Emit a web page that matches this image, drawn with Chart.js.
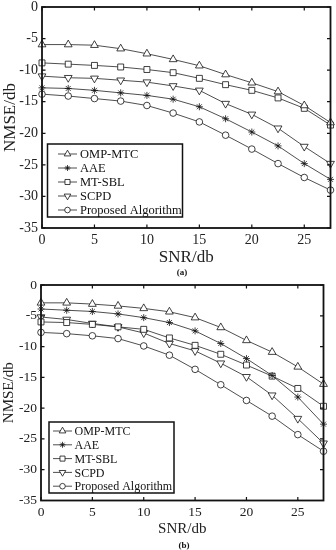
<!DOCTYPE html>
<html>
<head>
<meta charset="utf-8">
<script src="https://cdn.jsdelivr.net/npm/chart.js@4.4.0/dist/chart.umd.min.js"></script>
<style>
body{margin:0;background:#fff;width:336px;height:550px;position:relative;overflow:hidden;font-family:"Liberation Serif",serif;}
.wrap{position:absolute;left:0;width:336px;}
#wrapA{top:0;height:268px;}
#wrapB{top:275px;height:263px;}
.cap{position:absolute;transform:translateX(-50%);font-weight:bold;font-size:9px;color:#111;}
</style>
</head>
<body>
<div class="wrap" id="wrapA"><canvas id="chartA" width="336" height="268"></canvas></div>
<div class="wrap" id="wrapB"><canvas id="chartB" width="336" height="263"></canvas></div>
<div class="cap" style="left:182px;top:267px">(a)</div>
<div class="cap" style="left:184px;top:540px">(b)</div>
<script>
const snr=[0,2.5,5,7.5,10,12.5,15,17.5,20,22.5,25,27.5];
const names=["OMP-MTC","AAE","MT-SBL","SCPD","Proposed Algorithm"];
const xTicks=[0,5,10,15,20,25];

// (a)
const ompA=[-5.95,-5.95,-6.05,-6.6,-7.4,-8.3,-9.3,-10.7,-12.0,-13.4,-15.6,-18.3];
const aaeA=[-12.8,-12.9,-13.2,-13.6,-14.0,-14.6,-15.8,-17.7,-19.8,-22.0,-24.8,-27.3];
const sblA=[-8.85,-9.05,-9.25,-9.5,-9.9,-10.4,-11.3,-12.3,-13.2,-14.4,-16.05,-18.7];
const scpdA=[-10.95,-11.2,-11.3,-11.6,-11.9,-12.5,-13.2,-15.3,-17.0,-19.2,-22.1,-24.8];
const propA=[-13.8,-14.1,-14.5,-14.9,-15.6,-16.8,-18.2,-20.3,-22.5,-24.8,-27.0,-29.0];

// (b)
const ompB=[-2.9,-2.9,-3.1,-3.4,-3.8,-4.35,-5.3,-6.9,-9.0,-10.9,-13.3,-16.1];
const aaeB=[-3.9,-4.1,-4.3,-4.7,-5.3,-6.1,-7.45,-9.5,-11.95,-14.7,-18.2,-22.6];
const sblB=[-6.0,-6.1,-6.4,-6.8,-7.2,-8.6,-9.8,-11.25,-13.0,-14.8,-16.8,-19.7];
const scpdB=[-5.2,-5.6,-6.25,-6.8,-7.8,-9.5,-10.7,-12.7,-14.9,-17.9,-21.7,-25.7];
const propB=[-7.7,-7.9,-8.25,-8.7,-9.9,-11.4,-13.7,-16.2,-18.75,-21.3,-24.3,-27.0];

const markers=[
  {pointStyle:"triangle",radius:4.5,rotation:0},
  {pointStyle:"star",radius:3.5,rotation:0},
  {pointStyle:"rect",radius:4.2,rotation:0},
  {pointStyle:"triangle",radius:4.5,rotation:180},
  {pointStyle:"circle",radius:3.3,rotation:0}
];

const frame={
  id:"frame",
  afterDraw(chart,args,o){
    const {ctx,chartArea:a,scales:{x,y}}=chart;
    ctx.save();
    ctx.strokeStyle="#111";
    ctx.lineWidth=1.2;
    x.ticks.forEach(t=>{
      const px=x.getPixelForValue(t.value);
      ctx.beginPath();
      ctx.moveTo(px,a.bottom);ctx.lineTo(px,a.bottom-3.5);
      ctx.moveTo(px,a.top);ctx.lineTo(px,a.top+3.5);
      ctx.stroke();
    });
    y.ticks.forEach(t=>{
      const py=y.getPixelForValue(t.value);
      ctx.beginPath();
      ctx.moveTo(a.left,py);ctx.lineTo(a.left+3.5,py);
      ctx.moveTo(a.right,py);ctx.lineTo(a.right-3.5,py);
      ctx.stroke();
    });
    ctx.lineWidth=1.8;
    ctx.strokeRect(a.left,a.top,a.right-a.left,a.bottom-a.top);

    // legend box
    const L=o.legend;
    ctx.fillStyle="#fff";
    ctx.fillRect(L.left,L.top,L.width,L.height);
    ctx.lineWidth=1.5;
    ctx.strokeRect(L.left,L.top,L.width,L.height);
    ctx.font=L.font+"px 'Liberation Serif', serif";
    ctx.textBaseline="middle";
    chart.data.datasets.forEach((ds,i)=>{
      const cy=L.rowTop+i*L.rowGap;
      ctx.strokeStyle="#222";
      ctx.lineWidth=0.8;
      ctx.beginPath();ctx.moveTo(L.lineX0,cy);ctx.lineTo(L.lineX1,cy);ctx.stroke();
      ctx.fillStyle="#fff";
      ctx.strokeStyle="#111";
      const m=markers[i];
      Chart.helpers.drawPoint(ctx,{pointStyle:m.pointStyle,rotation:m.rotation,radius:m.radius*0.85,borderWidth:0.8},(L.lineX0+L.lineX1)/2,cy);
      ctx.fillStyle="#111";
      ctx.fillText(ds.label,L.textX,cy+1);
    });
    ctx.restore();
  }
};

function makeChart(id,series,cfg){
  const datasets=series.map((vals,i)=>({
    label:names[i],
    data:vals.map((v,k)=>({x:snr[k],y:v})),
    borderColor:"#222",
    borderWidth:0.8,
    pointStyle:markers[i].pointStyle,
    pointRotation:markers[i].rotation,
    pointRadius:markers[i].radius,
    pointBorderWidth:0.8,
    pointBorderColor:"#111",
    pointBackgroundColor:"#fff",
    clip:false,
    tension:0
  }));
  const serif="'Liberation Serif', serif";
  return new Chart(document.getElementById(id),{
    type:"line",
    data:{datasets},
    plugins:[frame],
    options:{
      responsive:false,
      animation:false,
      events:[],
      layout:{padding:cfg.padding},
      plugins:{legend:{display:false},tooltip:{enabled:false},frame:{legend:cfg.legend}},
      scales:{
        x:{
          type:"linear",min:0,max:27.5,
          afterBuildTicks:s=>{s.ticks=xTicks.map(v=>({value:v}));},
          afterFit:s=>{s.height=cfg.xHeight;s.paddingLeft=0;s.paddingRight=0;},
          grid:{display:false,drawTicks:false},
          border:{display:false},
          ticks:{color:"#222",padding:5,maxRotation:0,font:{family:serif,size:cfg.tickSize,lineHeight:1}},
          title:{display:true,text:"SNR/db",color:"#222",padding:0,font:{family:serif,size:cfg.titleSize,lineHeight:1.2}}
        },
        y:{
          min:-35,max:0,
          ticks:{stepSize:5,color:"#222",padding:4,font:{family:serif,size:cfg.tickSize,lineHeight:1}},
          afterFit:s=>{s.width=cfg.yWidth;s.paddingTop=0;s.paddingBottom=0;},
          grid:{display:false,drawTicks:false},
          border:{display:false},
          title:{display:true,text:"NMSE/db",color:"#222",padding:0,font:{family:serif,size:cfg.titleSize,lineHeight:1.2}}
        }
      }
    }
  });
}

makeChart("chartA",[ompA,aaeA,sblA,scpdA,propA],{
  padding:{top:7,right:5.5,left:0,bottom:0},
  yWidth:42,xHeight:40,tickSize:14,titleSize:17,
  legend:{left:47.5,top:144,width:135,height:73,rowTop:154,rowGap:14,lineX0:58,lineX1:77,textX:80,font:12.5}
});

makeChart("chartB",[ompB,aaeB,sblB,scpdB,propB],{
  padding:{top:10,right:12.5,left:0,bottom:0},
  yWidth:41,xHeight:37.5,tickSize:13.5,titleSize:15,
  legend:{left:49,top:147,width:125,height:71,rowTop:156,rowGap:13.8,lineX0:53,lineX1:72,textX:74.5,font:12}
});
</script>
</body>
</html>
